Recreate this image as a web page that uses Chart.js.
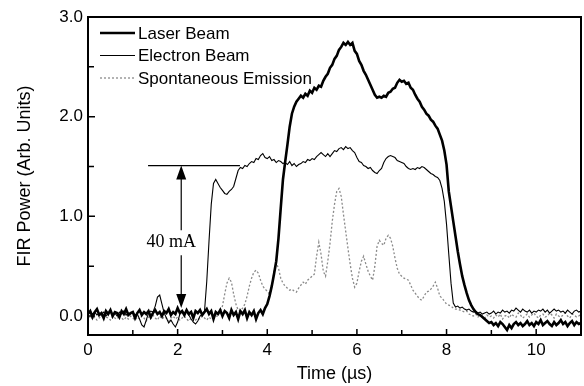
<!DOCTYPE html>
<html><head><meta charset="utf-8">
<script src="https://cdn.jsdelivr.net/npm/chart.js@4/dist/chart.umd.min.js"></script>
<style>html,body{margin:0;padding:0;background:#fff;} #wrap{width:584px;height:386px;}</style>
</head><body><div id="wrap"><canvas id="c" width="584" height="386"></canvas></div>
<script>
// ---- data ----
const seriesNames = ['Laser Beam', 'Electron Beam', 'Spontaneous Emission'];
const sampleStart = 0;      // µs, first sample
const sampleStep = 0.05;    // µs, scope sampling interval

// one row per microsecond (20 samples), last sample at 11.00 µs
const laserBeam = [
  0.02,0.05,-0.01,0.04,0.07,0.01,0.03,-0.02,0.05,0.02,0.06,0.00,0.04,0.03,-0.01,0.05,0.02,0.07,0.01,0.03,
  0.04,-0.02,0.03,0.06,0.01,0.04,0.02,0.05,-0.01,0.03,0.06,0.02,0.04,0.00,0.05,0.03,0.07,0.01,0.04,0.02,
  0.08,0.03,0.05,0.01,0.06,0.02,0.04,-0.02,0.05,0.03,0.06,0.01,0.04,0.07,0.02,0.05,-0.03,0.04,0.02,0.06,
  0.00,0.05,0.03,-0.02,0.06,0.01,0.04,-0.03,0.05,0.02,0.06,-0.02,0.04,0.01,0.05,-0.03,0.03,0.06,0.02,0.08,
  0.12,0.20,0.30,0.42,0.55,0.78,1.08,1.37,1.55,1.72,1.90,2.03,2.10,2.15,2.18,2.21,2.19,2.23,2.21,2.26,
  2.24,2.29,2.27,2.31,2.30,2.36,2.40,2.43,2.49,2.52,2.58,2.61,2.67,2.70,2.74,2.72,2.75,2.72,2.74,2.66,
  2.63,2.56,2.52,2.46,2.42,2.37,2.32,2.27,2.22,2.19,2.20,2.19,2.21,2.20,2.24,2.25,2.28,2.29,2.34,2.37,
  2.35,2.36,2.33,2.34,2.29,2.27,2.22,2.18,2.15,2.10,2.07,2.03,2.01,1.97,1.95,1.91,1.88,1.82,1.76,1.66,
  1.52,1.25,1.10,0.95,0.80,0.65,0.52,0.40,0.31,0.23,0.16,0.11,0.07,0.04,0.02,0.01,-0.01,-0.03,-0.05,-0.07,
  -0.06,-0.09,-0.07,-0.10,-0.06,-0.08,-0.11,-0.14,-0.09,-0.12,-0.08,-0.06,-0.09,-0.07,-0.10,-0.08,-0.05,-0.09,-0.07,-0.10,
  -0.06,-0.08,-0.04,-0.09,-0.07,-0.05,-0.08,-0.10,-0.06,-0.09,-0.07,-0.04,-0.08,-0.06,-0.10,-0.07,-0.05,-0.09,-0.06,-0.08,
  -0.07
];
const electronBeam = [
  0.03,0.05,0.02,0.04,0.01,0.03,0.02,0.04,0.00,0.03,0.05,0.02,0.03,0.00,0.04,0.02,0.05,0.01,0.03,0.02,
  0.04,0.01,0.02,-0.03,-0.09,-0.11,-0.04,0.03,0.05,0.04,0.10,0.19,0.21,0.12,0.03,-0.02,-0.07,-0.04,-0.08,-0.11,
  -0.06,0.02,0.05,0.03,0.04,0.01,-0.03,-0.06,-0.08,-0.05,0.00,0.02,0.05,0.35,0.75,1.12,1.33,1.37,1.33,1.29,
  1.26,1.23,1.22,1.25,1.27,1.30,1.38,1.46,1.49,1.48,1.51,1.50,1.53,1.55,1.54,1.58,1.57,1.61,1.63,1.59,
  1.58,1.60,1.56,1.57,1.54,1.56,1.55,1.53,1.54,1.52,1.55,1.51,1.53,1.50,1.52,1.53,1.55,1.54,1.57,1.56,
  1.58,1.57,1.60,1.62,1.64,1.62,1.60,1.63,1.60,1.63,1.66,1.65,1.68,1.69,1.67,1.70,1.68,1.69,1.66,1.64,
  1.59,1.55,1.54,1.51,1.50,1.48,1.49,1.46,1.44,1.43,1.46,1.48,1.54,1.58,1.60,1.61,1.60,1.59,1.56,1.55,
  1.54,1.53,1.50,1.48,1.47,1.48,1.47,1.49,1.48,1.50,1.49,1.47,1.45,1.43,1.42,1.40,1.39,1.36,1.28,1.15,
  0.92,0.62,0.33,0.13,0.09,0.10,0.08,0.09,0.07,0.06,0.07,0.05,0.04,0.05,0.03,0.04,0.02,0.03,0.04,0.02,
  0.03,0.05,0.02,0.04,0.03,0.06,0.04,0.05,0.03,0.06,0.05,0.08,0.06,0.04,0.07,0.05,0.04,0.06,0.03,0.05,
  0.04,0.06,0.05,0.07,0.04,0.06,0.03,0.05,0.07,0.05,0.06,0.04,0.05,0.03,0.06,0.04,0.02,0.05,0.06,0.04,
  0.05
];
const spontaneousEmission = [
  -0.02,0.00,-0.03,-0.01,-0.04,-0.02,0.01,-0.03,-0.01,-0.02,-0.04,0.00,-0.02,-0.03,0.01,-0.02,-0.04,-0.01,-0.03,0.00,
  -0.02,-0.04,-0.01,-0.03,0.00,-0.02,-0.05,-0.01,-0.03,0.01,-0.02,-0.04,0.00,-0.03,-0.01,-0.02,-0.05,-0.02,0.00,-0.03,
  -0.01,-0.04,-0.02,0.00,-0.03,-0.05,-0.02,-0.01,-0.04,-0.02,-0.03,0.00,-0.02,-0.04,-0.01,-0.03,-0.02,0.00,0.00,0.05,
  0.10,0.22,0.33,0.38,0.34,0.22,0.12,0.06,0.05,0.08,0.12,0.20,0.30,0.38,0.44,0.46,0.43,0.36,0.30,0.27,
  0.25,0.22,0.30,0.45,0.53,0.48,0.38,0.33,0.30,0.28,0.26,0.27,0.25,0.24,0.28,0.31,0.34,0.32,0.36,0.38,
  0.40,0.42,0.60,0.74,0.62,0.45,0.40,0.55,0.73,0.95,1.12,1.25,1.28,1.20,1.02,0.85,0.68,0.52,0.38,0.29,
  0.33,0.45,0.55,0.60,0.52,0.45,0.40,0.36,0.50,0.70,0.76,0.73,0.71,0.78,0.81,0.78,0.70,0.58,0.48,0.42,
  0.40,0.38,0.37,0.36,0.31,0.26,0.23,0.20,0.17,0.16,0.20,0.24,0.25,0.27,0.30,0.34,0.28,0.20,0.18,0.15,
  0.12,0.11,0.10,0.08,0.07,0.07,0.06,0.05,0.04,0.05,0.02,0.01,0.00,0.02,-0.01,0.01,0.00,-0.02,0.01,-0.01,
  0.00,-0.02,0.01,-0.01,0.02,-0.03,0.00,0.01,-0.02,0.02,0.00,-0.01,0.03,0.01,-0.02,0.00,0.02,-0.01,0.01,0.03,
  0.00,-0.02,0.01,0.02,-0.01,0.00,0.03,0.01,-0.02,0.02,0.00,-0.01,0.01,0.03,0.00,-0.02,0.02,0.01,-0.01,0.00,
  0.02
];
const xTickLabels = [0, 2, 4, 6, 8, 10];
const xMinorTicks = [1, 3, 5, 7, 9];
const yTickLabels = [0.0, 1.0, 2.0, 3.0];
const yMinorTicks = [0.5, 1.5, 2.5];
const xTitle = 'Time (\u00b5s)';
const yTitle = 'FIR Power (Arb. Units)';
// "40 mA" current-step marker, in data units
const currentMarker = { label: '40 mA', x: 2.08, xLeft: 1.34, xRight: 3.39, top: 1.51, bottom: 0.08,
                        textX: 1.86, textY: 0.74, gapTop: 0.86, gapBottom: 0.61 };

// ---- build ----
const times = laserBeam.map((_, i) => +(sampleStart + i * sampleStep).toFixed(2));
const toPts = arr => arr.map((v, i) => ({ x: times[i], y: v }));
const SANS = "'Liberation Sans', Arial, sans-serif";
const SERIF = "'Liberation Serif', 'Times New Roman', serif";

const styles = [
  { color: '#000', width: 2.6, dash: [] },
  { color: '#000', width: 1.1, dash: [] },
  { color: '#8a8a8a', width: 1.3, dash: [2, 2] }
];
const seriesData = [laserBeam, electronBeam, spontaneousEmission];

const decor = {
  id: 'decor',
  afterDatasetsDraw(chart) {
    const { ctx, chartArea: a, scales: { x, y } } = chart;
    ctx.save();
    // frame
    ctx.strokeStyle = '#000';
    ctx.lineWidth = 2;
    ctx.strokeRect(a.left, a.top, a.right - a.left, a.bottom - a.top);
    // inward ticks
    ctx.lineWidth = 1.5;
    ctx.beginPath();
    xTickLabels.concat(xMinorTicks).forEach(v => {
      const px = x.getPixelForValue(v);
      const len = xTickLabels.includes(v) ? 6 : 5;
      ctx.moveTo(px, a.bottom); ctx.lineTo(px, a.bottom - len);
    });
    yTickLabels.concat(yMinorTicks).forEach(v => {
      const py = y.getPixelForValue(v);
      const len = yTickLabels.includes(v) ? 7 : 6;
      ctx.moveTo(a.left, py); ctx.lineTo(a.left + len, py);
    });
    ctx.stroke();

    // legend
    const lx0 = a.left + 12, lx1 = a.left + 47, ly0 = a.top + 16, ldy = 22.5;
    ctx.font = '17px ' + SANS;
    ctx.textBaseline = 'middle';
    ctx.textAlign = 'left';
    seriesNames.forEach((name, i) => {
      const s = styles[i];
      const yy = ly0 + i * ldy;
      ctx.beginPath();
      ctx.strokeStyle = s.color; ctx.lineWidth = s.width; ctx.setLineDash(s.dash);
      ctx.moveTo(lx0, yy); ctx.lineTo(lx1, yy); ctx.stroke();
      ctx.setLineDash([]);
      ctx.fillStyle = '#000';
      ctx.fillText(name, lx1 + 3, yy + 1);
    });

    // current marker
    const m = currentMarker;
    const ax = x.getPixelForValue(m.x);
    const yTop = y.getPixelForValue(m.top), yBot = y.getPixelForValue(m.bottom);
    ctx.strokeStyle = '#000'; ctx.lineWidth = 1.2;
    ctx.beginPath();
    ctx.moveTo(x.getPixelForValue(m.xLeft), yTop); ctx.lineTo(x.getPixelForValue(m.xRight), yTop);
    ctx.moveTo(ax, yTop + 10); ctx.lineTo(ax, y.getPixelForValue(m.gapTop));
    ctx.moveTo(ax, y.getPixelForValue(m.gapBottom)); ctx.lineTo(ax, yBot - 10);
    ctx.stroke();
    ctx.fillStyle = '#000';
    ctx.beginPath();
    ctx.moveTo(ax, yTop); ctx.lineTo(ax - 5, yTop + 14); ctx.lineTo(ax + 5, yTop + 14); ctx.closePath();
    ctx.moveTo(ax, yBot); ctx.lineTo(ax - 5, yBot - 14); ctx.lineTo(ax + 5, yBot - 14); ctx.closePath();
    ctx.fill();
    ctx.font = '18px ' + SERIF;
    ctx.textAlign = 'center';
    ctx.fillText(m.label, x.getPixelForValue(m.textX), y.getPixelForValue(m.textY));
    ctx.restore();
  }
};

new Chart(document.getElementById('c'), {
  type: 'line',
  data: {
    datasets: seriesData.map((arr, i) => ({
      label: seriesNames[i],
      data: toPts(arr),
      borderColor: styles[i].color,
      borderWidth: styles[i].width,
      borderDash: styles[i].dash,
      pointRadius: 0,
      tension: 0,
      fill: false
    }))
  },
  options: {
    responsive: false,
    animation: false,
    layout: { padding: { top: 17, right: 3, left: 0, bottom: 0 } },
    plugins: { legend: { display: false }, tooltip: { enabled: false } },
    scales: {
      x: {
        type: 'linear', min: 0, max: 11,
        grid: { display: false, drawTicks: false },
        border: { display: false },
        afterBuildTicks: s => { s.ticks = xTickLabels.map(v => ({ value: v })); },
        afterFit: s => { s.height = 51; },
        ticks: { color: '#000', font: { family: SANS, size: 17 }, padding: 5, maxRotation: 0,
                 callback: v => String(v) },
        title: { display: true, text: xTitle, color: '#000', font: { family: SANS, size: 18 },
                 padding: { top: 0, bottom: 1 } }
      },
      y: {
        type: 'linear', min: -0.19, max: 3.0,
        grid: { display: false, drawTicks: false },
        border: { display: false },
        afterBuildTicks: s => { s.ticks = yTickLabels.map(v => ({ value: v })); },
        afterFit: s => { s.width = 88; },
        ticks: { color: '#000', font: { family: SANS, size: 17 }, padding: 5,
                 callback: v => Number(v).toFixed(1) },
        title: { display: true, text: yTitle, color: '#000', font: { family: SANS, size: 18 },
                 padding: { top: 14, bottom: 0 } }
      }
    }
  },
  plugins: [decor]
});
</script>
</body></html>
